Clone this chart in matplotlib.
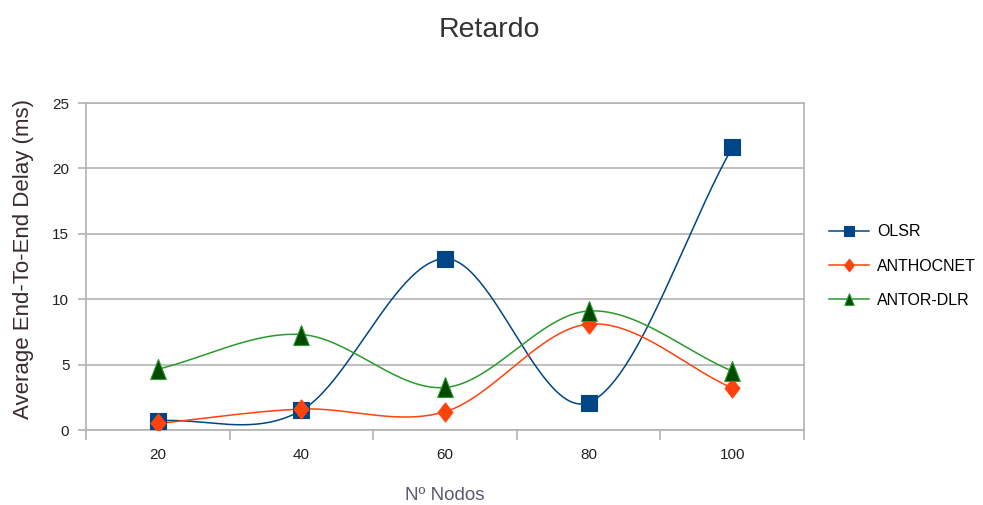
import numpy as np
import matplotlib
matplotlib.use("Agg")
import matplotlib.pyplot as plt
from matplotlib.path import Path

# Data
nodes = [20, 40, 60, 80, 100]
olsr = [0.7, 1.5, 13.1, 2.1, 21.6]
anthocnet = [0.5, 1.6, 1.4, 8.1, 3.2]
antor_dlr = [4.65, 7.3, 3.25, 9.1, 4.5]
series_names = ["OLSR", "ANTHOCNET", "ANTOR-DLR"]
y_ticks = [0, 5, 10, 15, 20, 25]

plt.rcParams["font.family"] = ["Liberation Sans", "DejaVu Sans"]


def smooth_curve(x, y, n=60):
    """Catmull-Rom style cubic Hermite curve through the points."""
    x = np.asarray(x, float)
    y = np.asarray(y, float)
    k = len(x)
    m = np.empty(k)
    m[0] = (y[1] - y[0]) / (x[1] - x[0])
    m[-1] = (y[-1] - y[-2]) / (x[-1] - x[-2])
    m[1:-1] = (y[2:] - y[:-2]) / (x[2:] - x[:-2])
    xs_all, ys_all = [], []
    for i in range(k - 1):
        h = x[i + 1] - x[i]
        t = np.linspace(0, 1, n)
        h00 = 2 * t ** 3 - 3 * t ** 2 + 1
        h10 = t ** 3 - 2 * t ** 2 + t
        h01 = -2 * t ** 3 + 3 * t ** 2
        h11 = t ** 3 - t ** 2
        xs_all.append(x[i] + t * h)
        ys_all.append(h00 * y[i] + h10 * h * m[i] + h01 * y[i + 1] + h11 * h * m[i + 1])
    return np.concatenate(xs_all), np.concatenate(ys_all)


tall_triangle = Path([(-0.78, -1.0), (0.78, -1.0), (0.0, 1.0), (-0.78, -1.0)],
                     [Path.MOVETO, Path.LINETO, Path.LINETO, Path.CLOSEPOLY])
tall_diamond = Path([(0.0, 1.0), (0.78, 0.0), (0.0, -1.0), (-0.78, 0.0), (0.0, 1.0)],
                    [Path.MOVETO, Path.LINETO, Path.LINETO, Path.LINETO, Path.CLOSEPOLY])

styles = [
    dict(line="#004586", face="#004586", edge="#004586", marker="s", ms=12.0, lms=7.0),
    dict(line="#ff420e", face="#ff420e", edge="#ff420e", marker=tall_diamond, ms=13.7, lms=9.0),
    dict(line="#2a9a2a", face="#004a00", edge="#2a9a2a", marker=tall_triangle, ms=14.4, lms=8.5),
]

fig = plt.figure(figsize=(9.83, 5.05), dpi=100)
ax = fig.add_axes([0.0875, 0.1485, 0.7305, 0.6475])

for vals, name, st in zip([olsr, anthocnet, antor_dlr], series_names, styles):
    xs, ys = smooth_curve(nodes, vals)
    ax.plot(xs, ys, color=st["line"], lw=1.1, zorder=3)
    ax.plot(nodes, vals, ls="none", marker=st["marker"], ms=st["ms"],
            mfc=st["face"], mec=st["edge"], mew=0.8, zorder=4)
    ax.plot([], [], color=st["line"], lw=1.1, marker=st["marker"],
            ms=st["lms"], mfc=st["face"], mec=st["edge"], mew=0.8, label=name)

ax.set_xlim(10, 110)
ax.set_ylim(0, 25)
ax.set_yticks(y_ticks)
ax.yaxis.grid(True, color="#b3b3b3", lw=1.2)
ax.set_axisbelow(True)

# Category boundaries carry the tick marks, centres carry the labels
ax.set_xticks([10, 30, 50, 70, 90, 110])
ax.set_xticklabels([])
ax.set_xticks(nodes, minor=True)
ax.set_xticklabels([str(n) for n in nodes], minor=True)
ax.tick_params(axis="x", which="major", length=7, color="#b3b3b3", width=1.2)
ax.tick_params(axis="x", which="minor", length=0, pad=13, labelsize=11,
               labelcolor="#222222")
ax.tick_params(axis="y", length=6, color="#b3b3b3", width=1.2, pad=6,
               labelsize=11, labelcolor="#222222")

for sp in ax.spines.values():
    sp.set_color("#b3b3b3")
    sp.set_linewidth(1.2)

ax.set_ylabel("Average End-To-End Delay (ms)", fontsize=16, color="#3a2a30")
ax.yaxis.set_label_coords(-0.073, 0.523)
ax.set_xlabel("Nº Nodos", fontsize=13.5, color="#5a5a70", labelpad=18)
fig.text(0.4975, 0.94, "Retardo", ha="center", va="center", fontsize=20.5,
         color="#333333")

fig.legend(loc="center left", bbox_to_anchor=(0.829, 0.473), frameon=False,
           fontsize=11.5, handlelength=2.5, labelspacing=1.2, handletextpad=0.5)

fig.savefig("out.png", dpi=100, facecolor="white")
